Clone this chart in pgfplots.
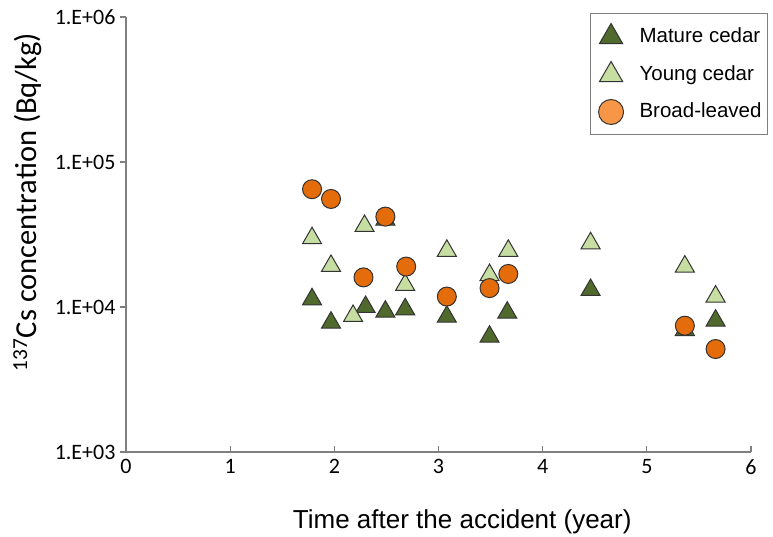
\documentclass[border=0pt]{standalone}
\usepackage{fontspec}
\setmainfont{Carlito}
\newfontfamily\arial{Liberation Sans}
\usepackage{pgfplots}
\pgfplotsset{compat=1.18}
\definecolor{mature}{HTML}{4F6A2C}
\definecolor{young}{HTML}{C6DEA2}
\definecolor{broad}{HTML}{E46C0A}
\definecolor{broadleg}{HTML}{F79646}
\definecolor{axgray}{HTML}{7F7F7F}
\definecolor{edge}{HTML}{333333}
\begin{document}
\begin{tikzpicture}[x=1pt,y=1pt]
\useasboundingbox (-126,-84) rectangle (647,452);
\begin{axis}[
  at={(0,0)}, anchor=south west,
  scale only axis, width=625pt, height=435pt,
  xmin=0, xmax=6, ymode=log, ymin=1e3, ymax=1e6,
  axis lines*=left,
  axis line style={axgray, line width=1.2pt},
  xtick={0,1,2,3,4,5,6}, ytick={1e3,1e4,1e5,1e6},
  yticklabels={1.E+03,1.E+04,1.E+05,1.E+06},
  /pgf/number format/assume math mode=true,
  yminorticks=false,
  xtick align=inside, ytick align=outside,
  major tick length=6pt,
  tick style={axgray, line width=1.2pt},
  xticklabel style={font=\fontsize{22}{26}\selectfont, text=black, yshift=-4pt},
  yticklabel style={font=\fontsize{22}{26}\selectfont, text=black, xshift=-1pt},
  xlabel={Time after the accident (year)},
  ylabel={\textsuperscript{137}Cs concentration (Bq/kg)},
  every axis x label/.style={at={(axis description cs:0.538,-0.161)}, anchor=center, font=\arial\fontsize{26}{28}\selectfont},
  every axis y label/.style={at={(axis description cs:-0.158,0.575)}, rotate=90, anchor=center, font=\fontsize{30.5}{33}\selectfont},
  legend style={at={(axis description cs:1,1)}, anchor=north east, xshift=17pt, yshift=4pt,
    draw=axgray, line width=1pt, font=\arial\fontsize{20.5}{24}\selectfont,
    inner xsep=6pt, inner ysep=10pt, row sep=15pt, column sep=14pt,
    nodes={inner xsep=0pt, inner ysep=0pt, text height=15pt, text depth=4pt}},
  legend cell align=left,
  legend image code/.code={\path (-14pt,0pt) (14pt,0pt); \draw[#1] plot coordinates {(0pt,0pt)};},
]
\addplot[only marks, mark=triangle*, mark size=11pt, mark options={fill=mature, draw=edge, line width=1pt}, forget plot] coordinates {
(1.786,11300) (1.968,7800) (2.30,10000) (2.49,40000) (2.49,9290) (2.68,9640)
(3.08,8570) (3.49,6240) (3.66,9140) (4.46,13100) (5.365,6940) (5.66,8050)};
\addplot[only marks, mark=triangle*, mark size=11pt, mark options={fill=young, draw=edge, line width=1pt}, forget plot] coordinates {
(1.786,29800) (1.968,19200) (2.18,8670) (2.29,36200) (2.68,14200) (3.08,24400)
(3.49,16600) (3.67,24400) (4.46,27500) (5.365,19000) (5.66,11800)};
\addplot[only marks, mark=*, mark size=9.5pt, mark options={fill=broad, draw=edge, line width=1pt}, forget plot] coordinates {
(1.786,64900) (1.968,55600) (2.28,16000) (2.49,42000) (2.69,19000) (3.08,11800)
(3.49,13500) (3.67,16900) (5.365,7430) (5.66,5130)};
\addlegendimage{only marks, mark=triangle*, mark size=13.5pt, mark options={fill=mature, draw=edge, line width=1pt}}
\addlegendentry{Mature cedar}
\addlegendimage{only marks, mark=triangle*, mark size=13.5pt, mark options={fill=young, draw=edge, line width=1pt}}
\addlegendentry{Young cedar}
\addlegendimage{only marks, mark=*, mark size=12.5pt, mark options={fill=broadleg, draw=edge, line width=1pt}}
\addlegendentry{Broad-leaved}
\end{axis}
\end{tikzpicture}
\end{document}
